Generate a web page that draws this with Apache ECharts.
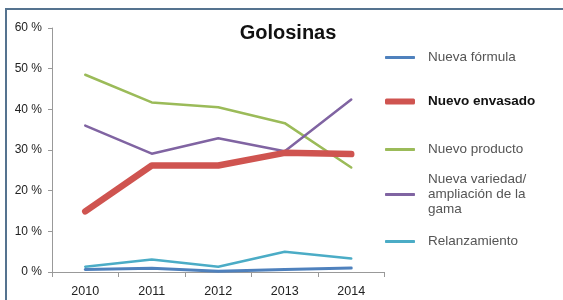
<!DOCTYPE html>
<html lang="es">
<head>
    <meta charset="UTF-8">
    <title>Golosinas</title>
    <script src="https://cdn.jsdelivr.net/npm/echarts@6/dist/echarts.min.js"></script>
    <style>
        html, body { margin: 0; padding: 0; background: #fff; }
        #main { width: 563px; height: 300px; }
    </style>
</head>
<body>
<div id="main"></div>
<script type="text/javascript">
    // datos (%)
    var years = ['2010', '2011', '2012', '2013', '2014'];
    var nuevaFormula = [0.6, 0.9, 0.2, 0.6, 1.0];
    var nuevoEnvasado = [14.9, 26.2, 26.2, 29.3, 29.0];
    var nuevoProducto = [48.5, 41.7, 40.5, 36.6, 25.7];
    var nuevaVariedad = [36.0, 29.1, 32.9, 29.7, 42.4];
    var relanzamiento = [1.3, 3.1, 1.3, 5.0, 3.3];
    var yTicks = [0, 10, 20, 30, 40, 50, 60];

    var myChart = echarts.init(document.getElementById('main'));

    var font = '"Liberation Sans", Arial, sans-serif';

    // una leyenda por serie para poder colocarlas como en el original
    function leyenda(name, top, bold) {
        return {
            data: [name],
            left: 385,
            top: top,
            padding: 0,
            icon: 'roundRect',
            itemWidth: 30,
            itemHeight: bold ? 6 : 3,
            selectedMode: false,
            textStyle: {
                color: bold ? '#111' : '#555',
                fontWeight: bold ? 'bold' : 'normal',
                fontSize: 13.5,
                fontFamily: font,
                lineHeight: 15,
                padding: [0, 0, 0, 8]
            }
        };
    }

    function serie(name, data, color, width) {
        return {
            name: name,
            type: 'line',
            data: data,
            symbol: 'none',
            color: color,
            lineStyle: { color: color, width: width, cap: 'round', join: 'round' },
            z: width > 4 ? 3 : 2
        };
    }

    myChart.setOption({
        animation: false,
        title: {
            text: 'Golosinas',
            left: 283,
            textAlign: 'center',
            top: 18,
            textStyle: { fontSize: 20, fontWeight: 'bold', color: '#111', fontFamily: font }
        },
        legend: [
            leyenda('Nueva fórmula', 50, false),
            leyenda('Nuevo envasado', 94, true),
            leyenda('Nuevo producto', 142, false),
            leyenda('Nueva variedad/\nampliación de la\ngama', 172, false),
            leyenda('Relanzamiento', 234, false)
        ],
        grid: { left: 52, right: 178.5, top: 28, bottom: 28 },
        xAxis: {
            type: 'category',
            data: years,
            boundaryGap: true,
            axisLine: { lineStyle: { color: '#999', width: 1 } },
            axisTick: { show: true, length: 5, lineStyle: { color: '#999' } },
            axisLabel: { color: '#222', fontSize: 12.5, fontFamily: font, margin: 13 }
        },
        yAxis: {
            type: 'value',
            min: yTicks[0],
            max: yTicks[yTicks.length - 1],
            interval: 10,
            splitLine: { show: false },
            axisLine: { show: true, lineStyle: { color: '#999', width: 1 } },
            axisTick: { show: true, length: 4, lineStyle: { color: '#999' } },
            axisLabel: {
                color: '#222', fontSize: 12, fontFamily: font, margin: 10,
                formatter: function (v) { return v + ' %'; }
            }
        },
        graphic: [
            { type: 'rect', shape: { x: 5, y: 8, width: 558, height: 2 }, style: { fill: '#55738f' } },
            { type: 'rect', shape: { x: 5, y: 8, width: 2, height: 292 }, style: { fill: '#55738f' } }
        ],
        series: [
            serie('Nueva fórmula', nuevaFormula, '#4f81bd', 3),
            serie('Nuevo envasado', nuevoEnvasado, '#cf5450', 6.5),
            serie('Nuevo producto', nuevoProducto, '#9bbb59', 2.5),
            serie('Nueva variedad/\nampliación de la\ngama', nuevaVariedad, '#8064a2', 2.5),
            serie('Relanzamiento', relanzamiento, '#4bacc6', 2.5)
        ]
    });
</script>
</body>
</html>
